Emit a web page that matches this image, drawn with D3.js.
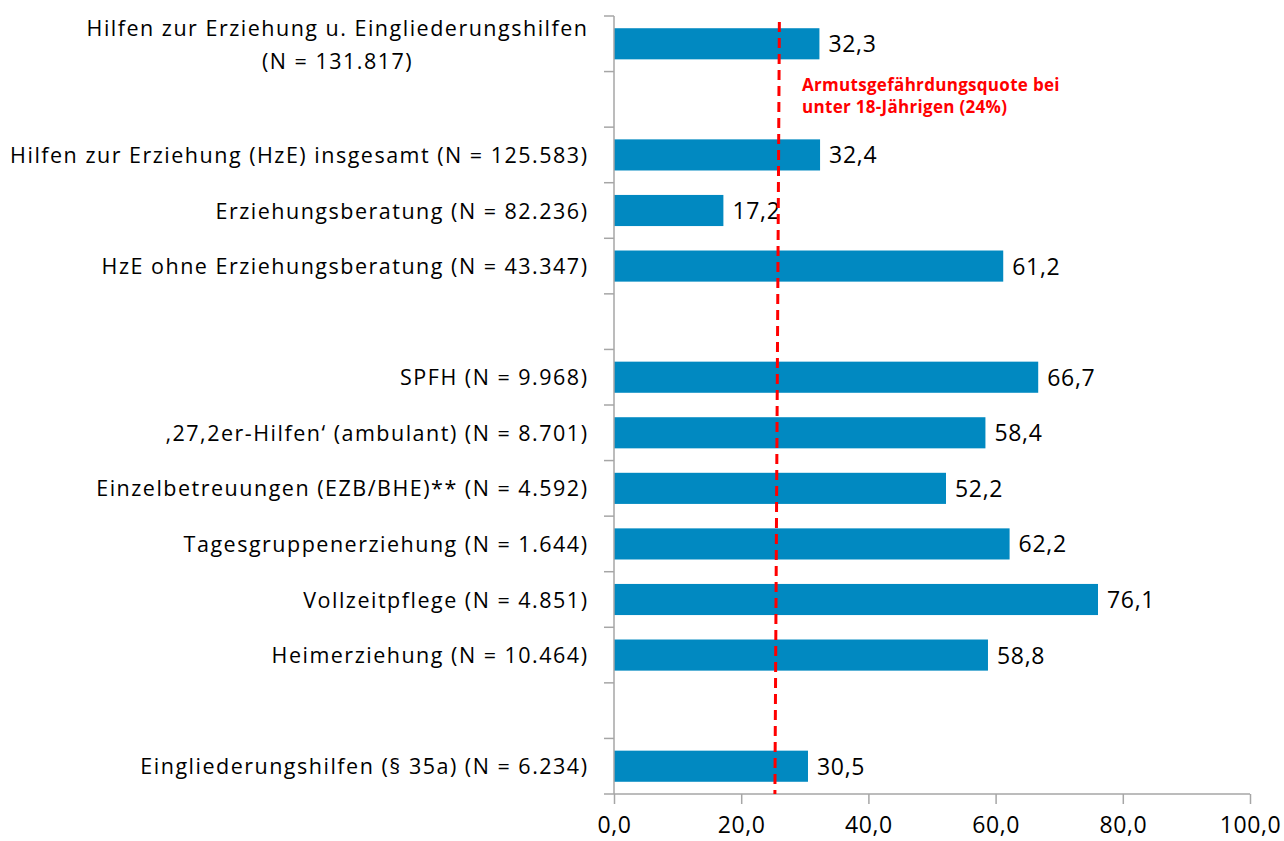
<!DOCTYPE html>
<html><head><meta charset="utf-8">
<script src="https://cdn.jsdelivr.net/npm/d3@7"></script>
<style>body{margin:0;background:#fff}svg{display:block}text{font-family:"Open Sans",sans-serif}</style>
</head><body>
<svg id="c" width="1284" height="841"></svg>
<script>
const categories = [
  ["Hilfen zur Erziehung u. Eingliederungshilfen","(N = 131.817)"],
  [],
  ["Hilfen zur Erziehung (HzE) insgesamt (N = 125.583)"],
  ["Erziehungsberatung (N = 82.236)"],
  ["HzE ohne Erziehungsberatung (N = 43.347)"],
  [],
  ["SPFH (N = 9.968)"],
  ["\u201A27,2er-Hilfen\u2018 (ambulant) (N = 8.701)"],
  ["Einzelbetreuungen (EZB/BHE)** (N = 4.592)"],
  ["Tagesgruppenerziehung (N = 1.644)"],
  ["Vollzeitpflege (N = 4.851)"],
  ["Heimerziehung (N = 10.464)"],
  [],
  ["Eingliederungshilfen (\u00A7 35a) (N = 6.234)"]
];
const values = [32.3, null, 32.4, 17.2, 61.2, null, 66.7, 58.4, 52.2, 62.2, 76.1, 58.8, null, 30.5];
const xTicks = [0, 20, 40, 60, 80, 100];
const refLineTop = 26.0, refLineBottom = 25.3;
const refLabel = ["Armutsgef\u00E4hrdungsquote bei", "unter 18-J\u00E4hrigen (24%)"];

(function(){
const svg = d3.select("#c");
const L = 614, R = 1250, T = 16, B = 794;
const FS = 21.5, LS = 1.5;
const x = d3.scaleLinear().domain([0, 100]).range([L, R]);
const y = d3.scaleBand().domain(d3.range(categories.length)).range([T, B]).paddingInner(0.44).paddingOuter(0.22);
const fmt = v => v.toFixed(1).replace(".", ",");

values.forEach((v, i) => {
  if (v == null) return;
  svg.append("rect").attr("x", x(0)).attr("y", y(i)).attr("width", x(v) - x(0)).attr("height", y.bandwidth()).attr("fill", "#0189C1");
  svg.append("text").attr("x", x(v) + 9).attr("y", y(i) + y.bandwidth()/2 + 8.5).attr("font-size", 23).attr("letter-spacing", 0.7).attr("fill", "#000").text(fmt(v));
});

const gy = svg.append("g");
gy.append("line").attr("x1", L).attr("x2", L).attr("y1", T).attr("y2", B).attr("stroke", "#a6a6a6").attr("stroke-width", 1.5);
const step = (B - T) / categories.length;
d3.range(categories.length + 1).forEach(k => {
  const yy = T + k * step;
  gy.append("line").attr("x1", L - 10).attr("x2", L).attr("y1", yy).attr("y2", yy).attr("stroke", "#a6a6a6").attr("stroke-width", 1.5);
});
categories.forEach((lines, i) => {
  if (!lines.length) return;
  const cy = T + (i + 0.5) * step;
  if (lines.length === 1) {
    svg.append("text").attr("x", 587 + LS).attr("y", cy + 8).attr("text-anchor", "end").attr("font-size", FS).attr("letter-spacing", LS).text(lines[0]);
  } else {
    const t = svg.append("text").attr("font-size", FS).attr("letter-spacing", LS).attr("text-anchor", "middle");
    const t1 = t.append("tspan").attr("y", cy - 8).text(lines[0]);
    const w = t1.node().getComputedTextLength();
    const cx = 587 + LS - w / 2;
    t1.attr("x", cx);
    t.append("tspan").attr("x", cx).attr("y", cy + 25).text(lines[1]);
  }
});

const gx = svg.append("g").attr("transform", `translate(0,${B})`)
  .call(d3.axisBottom(x).tickValues(xTicks).tickSize(10).tickFormat(fmt));
gx.select(".domain").attr("stroke", "#a6a6a6").attr("stroke-width", 1.5).attr("d", `M${L},0H${R}`);
gx.selectAll(".tick line").attr("stroke", "#a6a6a6").attr("stroke-width", 1.5).attr("y1", 0).attr("y2", 10);
gx.selectAll(".tick text").attr("font-size", 23).attr("letter-spacing", 0.6).attr("fill", "#000").attr("font-family", "'Open Sans',sans-serif").attr("dy", 0).attr("y", 39);

svg.append("line").attr("x1", x(refLineTop)).attr("x2", x(refLineBottom)).attr("y1", 22).attr("y2", B)
  .attr("stroke", "#ff0000").attr("stroke-width", 3).attr("stroke-dasharray", "10,6");
refLabel.forEach((s, k) => {
  svg.append("text").attr("x", 802).attr("y", 91 + k * 22).attr("font-size", 17).attr("letter-spacing", 0.3).attr("font-weight", "bold").attr("fill", "#ff0000").text(s);
});
})();
</script>
</body></html>
